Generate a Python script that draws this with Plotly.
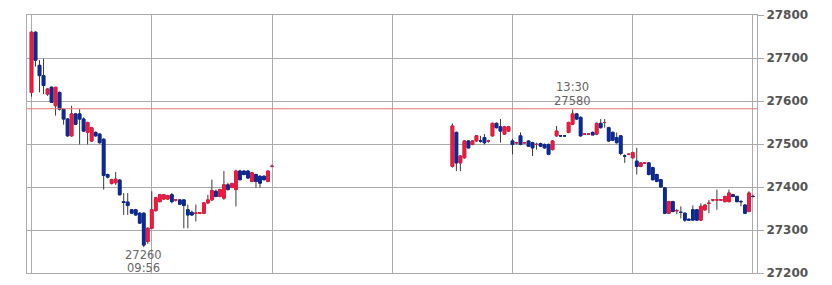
import pandas as pd
import plotly.graph_objects as go

DAY = "2024-01-01"

# ---- morning session, 2-minute candles 09:00-11:00 ----
am_open = [27620, 27760, 27683, 27659, 27616, 27632, 27589, 27620, 27581, 27558,
           27519, 27570, 27570, 27558, 27527, 27507, 27527, 27523, 27511, 27429,
           27408, 27410, 27416, 27366, 27365, 27347, 27347, 27339, 27339, 27273,
           27304, 27345, 27366, 27372, 27372, 27382, 27370, 27370, 27370, 27347,
           27341, 27339, 27339, 27339, 27363, 27370, 27390, 27378, 27374, 27405,
           27399, 27394, 27437, 27437, 27437, 27413, 27429, 27425, 27425, 27413,
           27448]
am_high = [27762, 27762, 27695, 27698, 27630, 27634, 27632, 27622, 27583, 27560,
           27589, 27572, 27581, 27562, 27552, 27540, 27529, 27525, 27513, 27431,
           27419, 27435, 27418, 27386, 27386, 27349, 27349, 27341, 27341, 27306,
           27390, 27377, 27384, 27384, 27382, 27386, 27372, 27372, 27372, 27359,
           27345, 27359, 27341, 27365, 27382, 27417, 27394, 27396, 27437, 27410,
           27410, 27440, 27440, 27439, 27439, 27435, 27431, 27427, 27427, 27439,
           27452]
am_low = [27610, 27680, 27620, 27616, 27612, 27596, 27566, 27578, 27545, 27517,
          27517, 27545, 27499, 27528, 27499, 27505, 27517, 27501, 27394, 27420,
          27406, 27405, 27380, 27335, 27335, 27337, 27333, 27314, 27260, 27268,
          27302, 27343, 27364, 27370, 27370, 27362, 27366, 27358, 27304, 27304,
          27333, 27320, 27337, 27337, 27361, 27368, 27376, 27376, 27370, 27392,
          27397, 27355, 27415, 27427, 27419, 27411, 27398, 27398, 27415, 27411,
          27446]
am_close = [27760, 27695, 27659, 27636, 27628, 27597, 27632, 27581, 27558, 27519,
            27570, 27546, 27558, 27530, 27550, 27538, 27519, 27503, 27427, 27423,
            27417, 27418, 27382, 27364, 27357, 27339, 27335, 27316, 27265, 27304,
            27347, 27375, 27382, 27382, 27380, 27366, 27370, 27360, 27357, 27335,
            27335, 27339, 27340, 27363, 27370, 27392, 27378, 27394, 27405, 27394,
            27408, 27437, 27417, 27429, 27421, 27433, 27413, 27409, 27417, 27437,
            27448]

# ---- afternoon session, 2-minute candles 12:30-15:00 ----
pm_open = [27448, 27527, 27456, 27468, 27507, 27499, 27507, 27507, 27515, 27507,
           27519, 27548, 27540, 27523, 27530, 27507, 27503, 27519, 27503, 27507,
           27503, 27499, 27501, 27499, 27499, 27487, 27519, 27519, 27519, 27527,
           27546, 27570, 27562, 27523, 27523, 27527, 27523, 27548, 27550, 27538,
           27527, 27515, 27519, 27472, 27476, 27468, 27460, 27448, 27456, 27456,
           27445, 27429, 27417, 27398, 27339, 27366, 27345, 27341, 27339, 27325,
           27347, 27347, 27323, 27347, 27362, 27370, 27370, 27370, 27366, 27366,
           27382, 27378, 27366, 27358, 27343, 27378]
pm_high = [27548, 27529, 27474, 27509, 27509, 27509, 27521, 27519, 27523, 27510,
           27550, 27550, 27558, 27542, 27542, 27512, 27505, 27527, 27505, 27509,
           27505, 27503, 27503, 27501, 27501, 27509, 27542, 27521, 27521, 27552,
           27580, 27572, 27564, 27525, 27525, 27529, 27550, 27558, 27558, 27540,
           27529, 27527, 27521, 27476, 27478, 27482, 27491, 27458, 27458, 27458,
           27447, 27431, 27419, 27400, 27368, 27368, 27349, 27355, 27341, 27327,
           27357, 27349, 27362, 27360, 27370, 27372, 27394, 27372, 27380, 27394,
           27384, 27380, 27370, 27360, 27390, 27382]
pm_low = [27445, 27437, 27437, 27466, 27489, 27497, 27505, 27503, 27499, 27503,
          27517, 27536, 27503, 27521, 27528, 27476, 27499, 27497, 27501, 27493,
          27472, 27487, 27493, 27489, 27474, 27485, 27517, 27517, 27517, 27525,
          27544, 27556, 27517, 27521, 27521, 27521, 27521, 27536, 27538, 27505,
          27507, 27501, 27474, 27456, 27474, 27466, 27429, 27446, 27454, 27427,
          27415, 27411, 27398, 27337, 27337, 27341, 27337, 27327, 27319, 27321,
          27321, 27321, 27321, 27345, 27339, 27366, 27347, 27368, 27364, 27364,
          27376, 27364, 27355, 27337, 27341, 27376]
pm_close = [27542, 27456, 27472, 27507, 27491, 27507, 27519, 27507, 27503, 27507,
            27548, 27538, 27530, 27540, 27540, 27499, 27503, 27499, 27503, 27495,
            27491, 27499, 27495, 27491, 27476, 27507, 27530, 27519, 27519, 27550,
            27570, 27558, 27519, 27523, 27523, 27521, 27548, 27538, 27550, 27507,
            27509, 27503, 27478, 27472, 27476, 27480, 27448, 27456, 27456, 27429,
            27417, 27413, 27400, 27339, 27366, 27343, 27345, 27341, 27323, 27323,
            27323, 27323, 27355, 27358, 27362, 27370, 27370, 27370, 27378, 27386,
            27378, 27366, 27366, 27339, 27386, 27378]

prev_close = 27582
y_ticks = [27200, 27300, 27400, 27500, 27600, 27700, 27800]
hour_lines = ["09:00", "10:00", "11:00", "12:00", "13:00", "14:00", "15:00"]

RED = "#f5173f"
BLUE = "#0b2a99"
WICK = "#3a3a3a"
GRID = "#ababab"

am_x = list(pd.date_range(f"{DAY} 09:00", f"{DAY} 11:00", freq="2min"))
pm_x = list(pd.date_range(f"{DAY} 12:30", f"{DAY} 15:00", freq="2min"))
x = am_x + pm_x
o = am_open + pm_open
h = am_high + pm_high
l = am_low + pm_low
c = am_close + pm_close

body_hi = [max(a, b) for a, b in zip(o, c)]
body_lo = [min(a, b) for a, b in zip(o, c)]

fig = go.Figure()
# wicks (dark grey)
fig.add_trace(go.Candlestick(
    x=x, open=o, high=h, low=l, close=c,
    increasing=dict(line=dict(color=WICK, width=1), fillcolor=WICK),
    decreasing=dict(line=dict(color=WICK, width=1), fillcolor=WICK),
    whiskerwidth=0, showlegend=False, hoverinfo="skip"))
# coloured bodies
fig.add_trace(go.Candlestick(
    x=x, open=o, high=body_hi, low=body_lo, close=c,
    increasing=dict(line=dict(color=RED, width=1), fillcolor=RED),
    decreasing=dict(line=dict(color=BLUE, width=1), fillcolor=BLUE),
    whiskerwidth=0, showlegend=False))

# previous close line
fig.add_shape(type="line", xref="paper", x0=0, x1=1, yref="y",
              y0=prev_close, y1=prev_close, line=dict(color="#ef7878", width=1))

# morning low / afternoon high annotations
lo_i = min(range(len(am_low)), key=lambda k: am_low[k])
hi_i = max(range(len(pm_high)), key=lambda k: pm_high[k])
afont = dict(family="DejaVu Sans", size=11.5, color="#666666")
lo_x, lo_v = am_x[lo_i], am_low[lo_i]
hi_x, hi_v = pm_x[hi_i], pm_high[hi_i]
fig.add_annotation(x=lo_x, y=lo_v, text=f"{lo_v}", showarrow=False,
                   yanchor="top", yshift=1, font=afont)
fig.add_annotation(x=lo_x, y=lo_v, text=lo_x.strftime("%H:%M"), showarrow=False,
                   yanchor="top", yshift=-12, font=afont)
fig.add_annotation(x=hi_x, y=hi_v, text=f"{hi_v}", showarrow=False,
                   yanchor="bottom", yshift=0, font=afont)
fig.add_annotation(x=hi_x, y=hi_v, text=hi_x.strftime("%H:%M"), showarrow=False,
                   yanchor="bottom", yshift=14, font=afont)

fig.update_layout(
    width=832, height=285,
    margin=dict(l=27, r=75, t=15, b=12, autoexpand=False),
    paper_bgcolor="white", plot_bgcolor="white",
    boxgap=0.05,
    xaxis=dict(type="date",
               range=[f"{DAY} 08:57:45", f"{DAY} 15:02:00"],
               tickvals=[f"{DAY} {t}" for t in hour_lines],
               showticklabels=False, ticks="",
               showgrid=True, gridcolor=GRID, gridwidth=1,
               showline=True, mirror=True, linecolor=GRID, linewidth=1,
               zeroline=False, rangeslider=dict(visible=False), fixedrange=True,
               automargin=False),
    yaxis=dict(range=[27200, 27800], side="right",
               tickvals=y_ticks, ticktext=[str(v) for v in y_ticks],
               ticks="outside", ticklen=6, tickcolor=GRID,
               tickfont=dict(family="DejaVu Sans", size=12, color="#555555", weight="bold"),
               showgrid=True, gridcolor=GRID, gridwidth=1,
               showline=True, mirror=True, linecolor=GRID, linewidth=1,
               zeroline=False, fixedrange=True, automargin=False),
    hovermode=False,
)

fig.write_html("out.html")
